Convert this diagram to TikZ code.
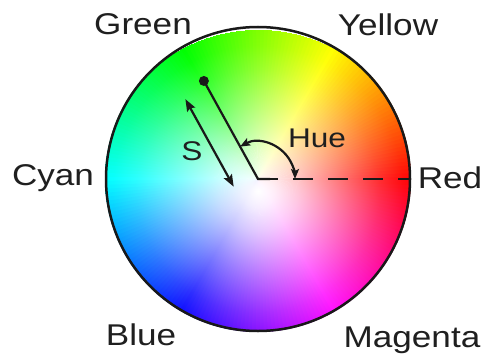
\documentclass[tikz,border=0pt]{standalone}
\usepackage{fontspec}
\setmainfont{Liberation Sans}
\usetikzlibrary{arrows.meta,calc}
\definecolor{hueh}{rgb}{1,0,0}
\colorlet{huec}[rgb]{hueh}
\pgfdeclareradialshading[huec]{satsh}{\pgfpointorigin}{color(0bp)=(white); color(16bp)=(white!93!huec); color(40bp)=(white!78!huec); color(80bp)=(white!48!huec); color(121bp)=(white!18!huec); color(145bp)=(white!4!huec); color(161bp)=(huec)}
\begin{document}
\begin{tikzpicture}[x=1pt,y=1pt,
  lbl/.style={anchor=base, text=black!88, font=\fontsize{30}{30}\selectfont},
  sml/.style={anchor=base, text=black!88, font=\fontsize{27}{27}\selectfont},
  ink/.style={line width=2.2pt, draw=black!90},
  bigtip/.style={{Stealth[length=12pt,width=9pt,inset=2pt]}-{Stealth[length=12pt,width=9pt,inset=2pt]}},
  smalltip/.style={{Stealth[length=10pt,width=8pt,inset=2pt]}-{Stealth[length=10pt,width=8pt,inset=2pt]}}]
\useasboundingbox (0,0) rectangle (486,354);
\fill[white] (0,0) rectangle (486,354);
\coordinate (O) at (258,175);
\coordinate (W) at (258,163);
% hue wheel with radial saturation
\foreach \a in {0,1.5,...,358.5}{
  \definecolor{hueh}{Hsb}{\a,1,1}
  \colorlet{huec}[rgb]{hueh}
  \begin{scope}
    \clip[shift={(O)}] (0,0) -- (\a-0.8:153) arc[start angle=\a-0.8, end angle=\a+1.3, radius=153] -- cycle;
    \node[inner sep=0pt, outer sep=0pt, anchor=center] (sh) at (W) {\pgfuseshading{satsh}};
  \end{scope}
}
\draw[line width=2.5pt, black!90] (O) circle (152);
% labels
\node[lbl] (green) at (143,319) {\scalebox{1.17}[1]{Green}};
\node[lbl] (yellow) at (388,318) {\scalebox{1.17}[1]{Yellow}};
\node[lbl] (cyan) at (53,169) {\scalebox{1.17}[1]{Cyan}};
\node[lbl] (red) at (450,166) {\scalebox{1.17}[1]{Red}};
\node[lbl] (blue) at (141,9) {\scalebox{1.17}[1]{Blue}};
\node[lbl] (magenta) at (412,7) {\scalebox{1.17}[1]{Magenta}};
\node[sml] (hue) at (317,207) {\scalebox{1.17}[1]{Hue}};
\node[sml] (s) at (192,194) {\scalebox{1.17}[1]{S}};
% geometry
\coordinate (D) at ($(O)+(118.9:112)$);
\coordinate (R) at ($(O)+(152,0)$);
\coordinate (S1) at ($(O)+(118.9:105)+(208.9:25)$);
\coordinate (S2) at ($(O)+(118.9:5)+(208.9:25)$);
\coordinate (H1) at ($(O)+(118.9:37)$);
\draw[ink, dash pattern=on 20pt off 15pt] (O) -- (R);
\draw[ink, line join=miter] (D) -- (O) -- ($(O)+(12,0)$);
\fill[black!90] (D) circle (5);
\draw[ink, bigtip] (S1) -- (S2);
\draw[ink, smalltip] (H1) arc[start angle=118.9, end angle=0, radius=37];
\end{tikzpicture}
\end{document}
